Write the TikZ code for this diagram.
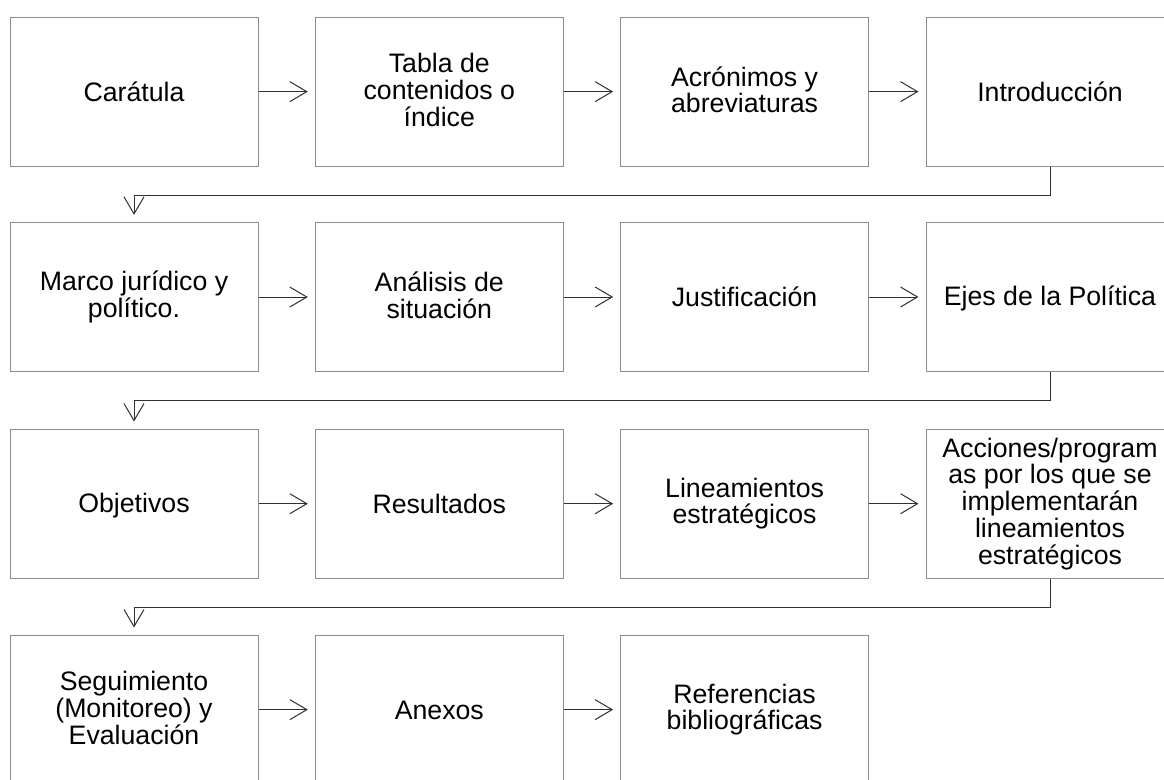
\documentclass[tikz,border=0pt]{standalone}
\usepackage{fontspec}
\setmainfont{Liberation Sans}
\usetikzlibrary{arrows.meta}
\definecolor{boxgray}{HTML}{8C8C8C}
\definecolor{linegray}{HTML}{303030}
\newcommand{\lnstrut}{\rule[-3.8pt]{0pt}{26.7pt}}
\tikzset{
  stepbox/.style={draw=boxgray, line width=1pt, minimum width=248pt, minimum height=149.3pt,
    inner sep=0pt, align=center, font=\fontsize{26.7}{26.7}\selectfont, text=black,
    execute at begin node=\lnstrut, execute at end node=\lnstrut},
  conn/.style={draw=linegray, line width=1pt, shorten >=7pt,
    -{Straight Barb[length=17pt,width=20pt,line width=1pt]}}
}
\begin{document}
\begin{tikzpicture}[x=1pt,y=-1pt]
\useasboundingbox (0,0) rectangle (1164,779);
\clip (0,0) rectangle (1164,779);
\fill[white] (0,0) rectangle (1164,779);
% row 1
\node[stepbox] (a1) at (134,91.65) {Carátula};
\node[stepbox] (a2) at (439.3,91.65) {Tabla de\\contenidos o\\índice};
\node[stepbox] (a3) at (744.6,91.65) {Acrónimos y\\abreviaturas};
\node[stepbox] (a4) at (1050,91.65) {Introducción};
% row 2
\node[stepbox] (b1) at (134,297) {Marco jurídico y\\político.};
\node[stepbox] (b2) at (439.3,297) {Análisis de\\situación};
\node[stepbox] (b3) at (744.6,297) {Justificación};
\node[stepbox] (b4) at (1050,297) {Ejes de la Política};
% row 3
\node[stepbox] (c1) at (134,503.7) {Objetivos};
\node[stepbox] (c2) at (439.3,503.7) {Resultados};
\node[stepbox] (c3) at (744.6,503.7) {Lineamientos\\estratégicos};
\node[stepbox] (c4) at (1050,503.7) {Acciones/program\\as por los que se\\implementarán\\lineamientos\\estratégicos};
% row 4
\node[stepbox] (d1) at (134,709.65) {Seguimiento\\(Monitoreo) y\\Evaluación};
\node[stepbox] (d2) at (439.3,709.65) {Anexos};
\node[stepbox] (d3) at (744.6,709.65) {Referencias\\bibliográficas};
% horizontal connectors
\draw[conn] (a1.east) -- (a2.west);
\draw[conn] (a2.east) -- (a3.west);
\draw[conn] (a3.east) -- (a4.west);
\draw[conn] (b1.east) -- (b2.west);
\draw[conn] (b2.east) -- (b3.west);
\draw[conn] (b3.east) -- (b4.west);
\draw[conn] (c1.east) -- (c2.west);
\draw[conn] (c2.east) -- (c3.west);
\draw[conn] (c3.east) -- (c4.west);
\draw[conn] (d1.east) -- (d2.west);
\draw[conn] (d2.east) -- (d3.west);
% elbow connectors
\draw[conn] (a4.south) -- ++(0,28.2) -| (b1.north);
\draw[conn] (b4.south) -- ++(0,28.7) -| (c1.north);
\draw[conn] (c4.south) -- ++(0,28.7) -| (d1.north);
\end{tikzpicture}
\end{document}
